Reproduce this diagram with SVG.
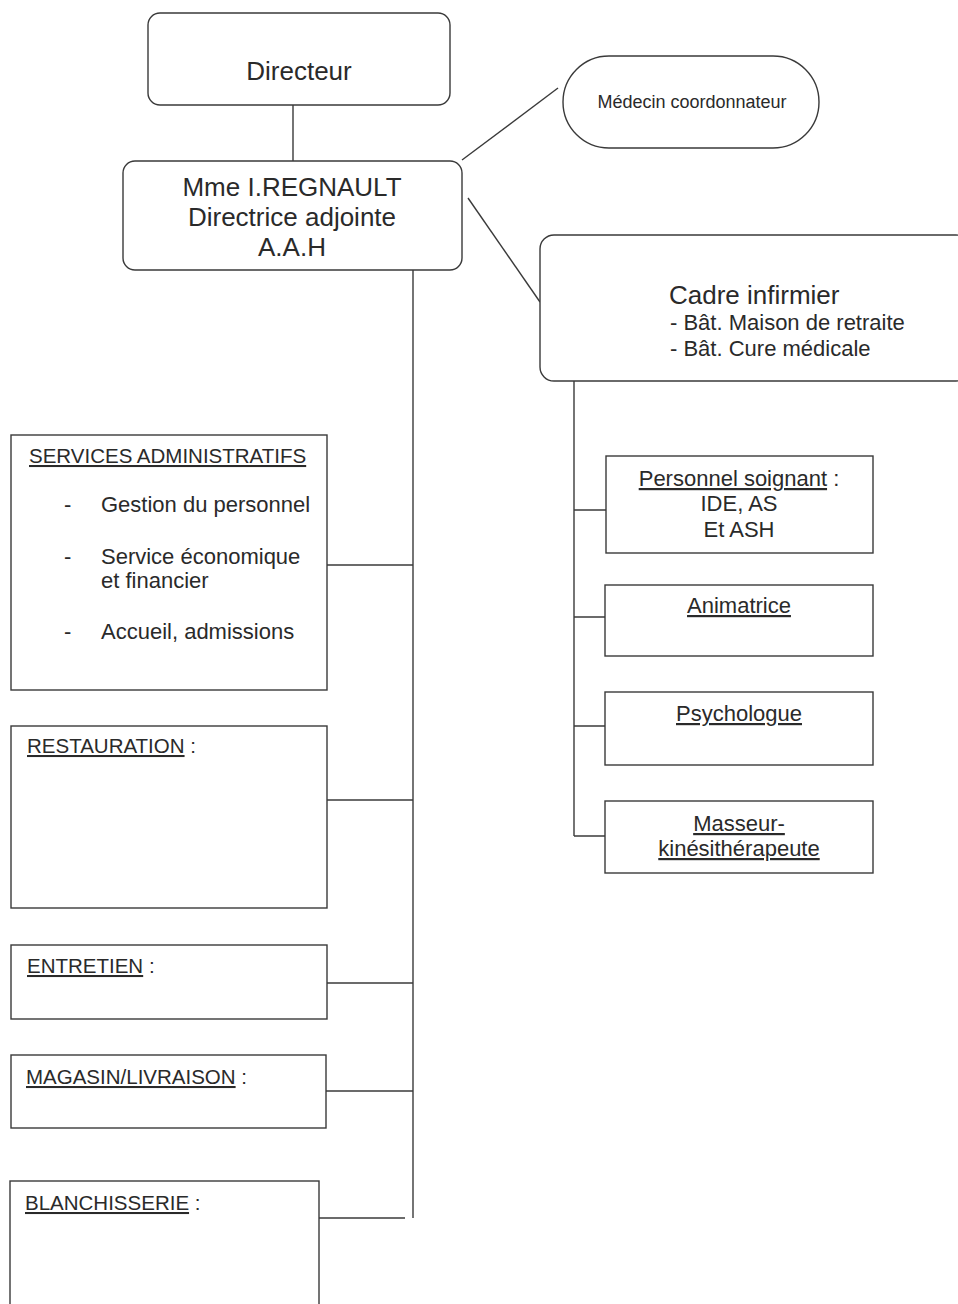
<svg xmlns="http://www.w3.org/2000/svg" width="958" height="1304" viewBox="0 0 958 1304">
<style>
.box{fill:#fff;stroke:#3a3a3a;stroke-width:1.4}
.ln{stroke:#3a3a3a;stroke-width:1.4;fill:none}
text{font-family:"Liberation Sans",Arial,sans-serif;fill:#2a2a2a}
.t26{font-size:26px}
.t22{font-size:22px}
.t20{font-size:20.5px}
.t18{font-size:18px}
.u{text-decoration:underline}
.c{text-anchor:middle}
</style>
<rect width="958" height="1304" fill="#fff"/>
<g id="connectors">
<line class="ln" x1="293" y1="105" x2="293" y2="161"/>
<line class="ln" x1="462" y1="160" x2="558" y2="88"/>
<line class="ln" x1="468" y1="198" x2="540" y2="302"/>
<line class="ln" x1="413" y1="270" x2="413" y2="1218"/>
<line class="ln" x1="327" y1="565" x2="413" y2="565"/>
<line class="ln" x1="327" y1="800" x2="413" y2="800"/>
<line class="ln" x1="327" y1="983" x2="413" y2="983"/>
<line class="ln" x1="320" y1="1091" x2="413" y2="1091"/>
<line class="ln" x1="319" y1="1218" x2="405" y2="1218"/>
<line class="ln" x1="574" y1="381" x2="574" y2="836"/>
<line class="ln" x1="574" y1="510" x2="612" y2="510"/>
<line class="ln" x1="574" y1="617" x2="612" y2="617"/>
<line class="ln" x1="574" y1="726" x2="612" y2="726"/>
<line class="ln" x1="574" y1="836" x2="612" y2="836"/>
</g>
<g id="directeur">
<rect class="box" x="148" y="13" width="302" height="92" rx="12"/>
<text class="t26 c" x="299" y="80">Directeur</text>
</g>
<g id="medecin">
<rect class="box" x="563" y="56" width="256" height="92" rx="46"/>
<text class="c" style="font-size:18px" x="692" y="108">Médecin coordonnateur</text>
</g>
<g id="directrice">
<rect class="box" x="123" y="161" width="339" height="109" rx="12"/>
<text class="t26 c" x="292" y="196">Mme I.REGNAULT</text>
<text class="t26 c" x="292" y="226">Directrice adjointe</text>
<text class="t26 c" x="292" y="256">A.A.H</text>
</g>
<g id="cadre">
<rect class="box" x="540" y="235" width="430" height="146" rx="14"/>
<text class="t26" x="669" y="304">Cadre infirmier</text>
<text class="t22" x="670" y="330">- Bât. Maison de retraite</text>
<text class="t22" x="670" y="356">- Bât. Cure médicale</text>
</g>
<g id="services">
<rect class="box" x="11" y="435" width="316" height="255"/>
<text class="t20 u" x="29" y="463">SERVICES ADMINISTRATIFS</text>
<text class="t22" x="64" y="512">-</text>
<text class="t22" x="101" y="512">Gestion du personnel</text>
<text class="t22" x="64" y="564">-</text>
<text class="t22" x="101" y="564">Service économique</text>
<text class="t22" x="101" y="588">et financier</text>
<text class="t22" x="64" y="639">-</text>
<text class="t22" x="101" y="639">Accueil, admissions</text>
</g>
<g id="restauration">
<rect class="box" x="11" y="726" width="316" height="182"/>
<text class="t20" x="27" y="753"><tspan class="u">RESTAURATION</tspan> :</text>
</g>
<g id="entretien">
<rect class="box" x="11" y="945" width="316" height="74"/>
<text class="t20" x="27" y="973"><tspan class="u">ENTRETIEN</tspan> :</text>
</g>
<g id="magasin">
<rect class="box" x="11" y="1055" width="315" height="73"/>
<text class="t20" x="26" y="1084"><tspan class="u">MAGASIN/LIVRAISON</tspan> :</text>
</g>
<g id="blanchisserie">
<rect class="box" x="10" y="1181" width="309" height="140"/>
<text class="t20" x="25" y="1210"><tspan class="u">BLANCHISSERIE</tspan> :</text>
</g>
<g id="soignant">
<rect class="box" x="606" y="456" width="267" height="97"/>
<text class="t22 c" x="739" y="486"><tspan class="u">Personnel soignant</tspan> :</text>
<text class="t22 c" x="739" y="511">IDE, AS</text>
<text class="t22 c" x="739" y="537">Et ASH</text>
</g>
<g id="animatrice">
<rect class="box" x="605" y="585" width="268" height="71"/>
<text class="t22 c u" x="739" y="613">Animatrice</text>
</g>
<g id="psychologue">
<rect class="box" x="605" y="692" width="268" height="73"/>
<text class="t22 c u" x="739" y="721">Psychologue</text>
</g>
<g id="masseur">
<rect class="box" x="605" y="801" width="268" height="72"/>
<text class="t22 c u" x="739" y="831">Masseur-</text>
<text class="t22 c u" x="739" y="856">kinésithérapeute</text>
</g>
</svg>
